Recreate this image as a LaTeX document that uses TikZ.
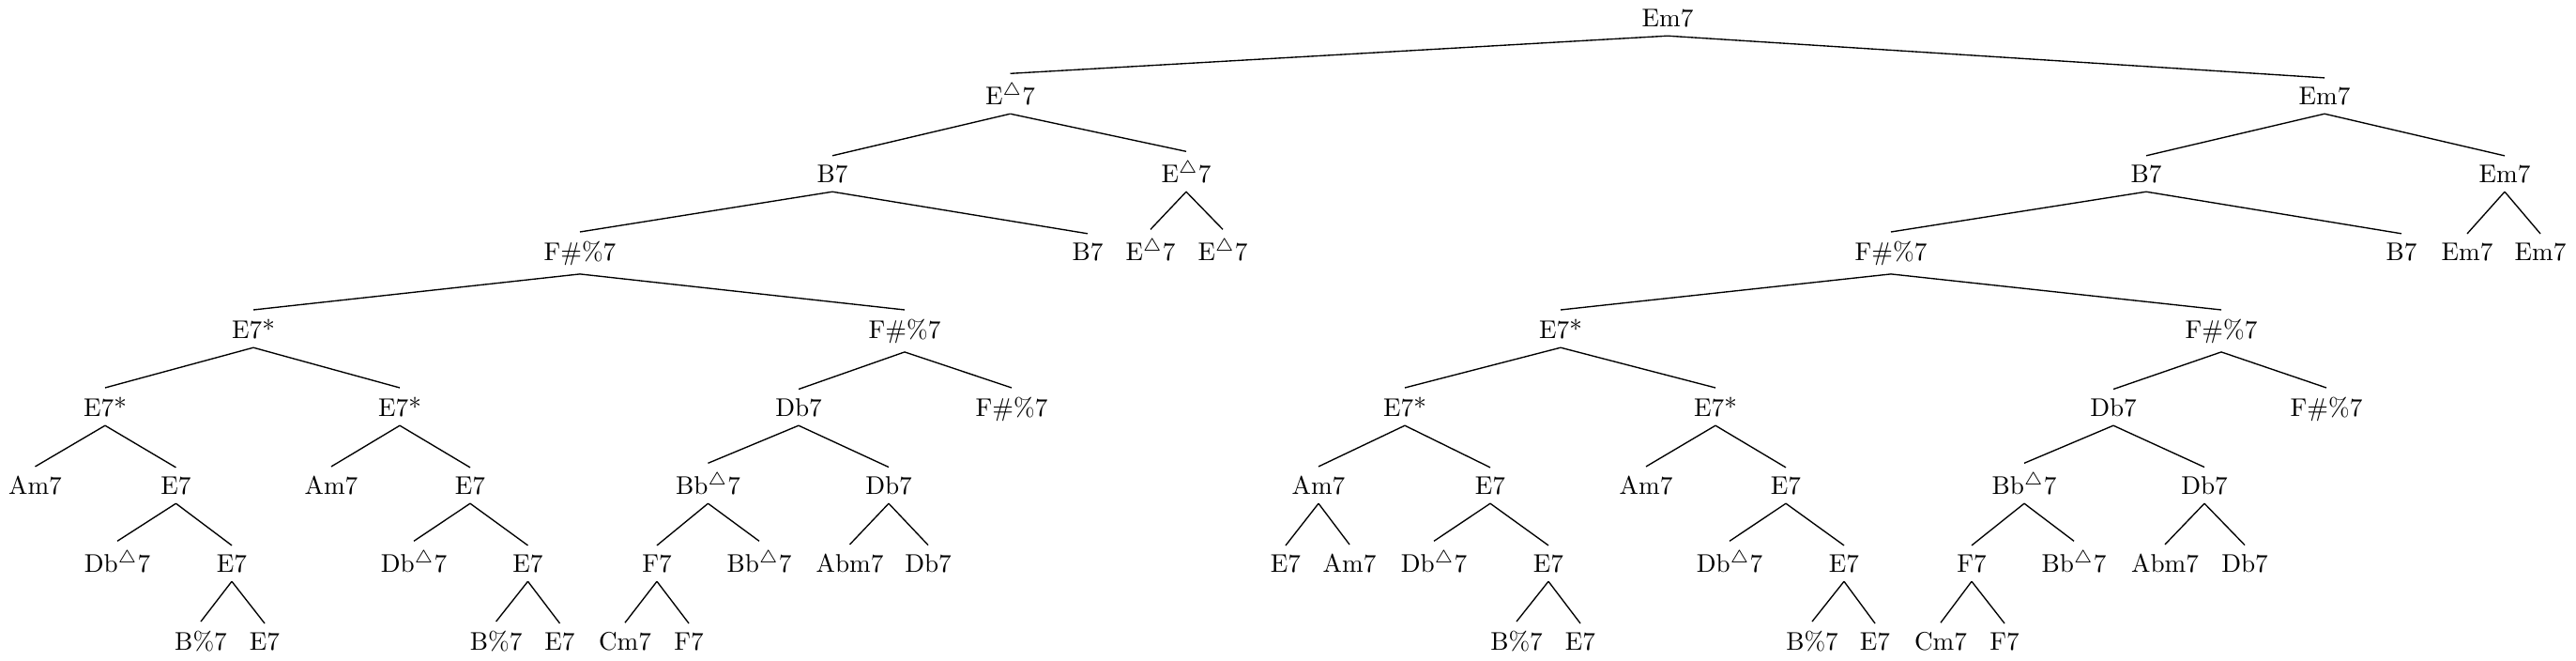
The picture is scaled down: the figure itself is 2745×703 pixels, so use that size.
\documentclass[tikz,border=0pt]{standalone}
\begin{document}
\begin{tikzpicture}[x=0.3676pt,y=-0.3676pt,
  ch/.style={anchor=base,inner sep=3.33pt,font=\normalsize},
  br/.style={line width=0.5pt}]
\useasboundingbox (0,0) rectangle (2745,703);
% level baselines: 28 + 83k
% ---- level 0
\node[ch] (r) at (1777,28) {Em7};
% ---- level 1
\node[ch] (a) at (1076.5,111) {E$^{\triangle}$7};
\node[ch] (b) at (2477,111) {Em7};
% ---- level 2
\node[ch] (aa) at (887,194) {B7};
\node[ch] (ab) at (1264,194) {E$^{\triangle}$7};
\node[ch] (ba) at (2287,194) {B7};
\node[ch] (bb) at (2669,194) {Em7};
% ---- level 3
\node[ch] (aaa) at (618,277) {F\#\%7};
\node[ch] (aab) at (1159,277) {B7};
\node[ch] (aba) at (1226,277) {E$^{\triangle}$7};
\node[ch] (abb) at (1303,277) {E$^{\triangle}$7};
\node[ch] (baa) at (2015,277) {F\#\%7};
\node[ch] (bab) at (2559,277) {B7};
\node[ch] (bba) at (2629,277) {Em7};
\node[ch] (bbb) at (2707,277) {Em7};
% ---- level 4
\node[ch] (aaaa) at (270,360) {E7*};
\node[ch] (aaab) at (964,360) {F\#\%7};
\node[ch] (baaa) at (1663,360) {E7*};
\node[ch] (baab) at (2367,360) {F\#\%7};
% ---- level 5
\node[ch] (aaaaa) at (112,443) {E7*};
\node[ch] (aaaab) at (426,443) {E7*};
\node[ch] (aaaba) at (851,443) {Db7};
\node[ch] (aaabb) at (1078,443) {F\#\%7};
\node[ch] (baaaa) at (1497,443) {E7*};
\node[ch] (baaab) at (1828,443) {E7*};
\node[ch] (baaba) at (2252,443) {Db7};
\node[ch] (baabb) at (2479,443) {F\#\%7};
% ---- level 6
\node[ch] (l6a) at (37.5,526) {Am7};
\node[ch] (l6b) at (187.5,526) {E7};
\node[ch] (l6c) at (353,526) {Am7};
\node[ch] (l6d) at (501,526) {E7};
\node[ch] (l6e) at (754.5,526) {Bb$^{\triangle}$7};
\node[ch] (l6f) at (947,526) {Db7};
\node[ch] (l6g) at (1405,526) {Am7};
\node[ch] (l6h) at (1588,526) {E7};
\node[ch] (l6i) at (1754,526) {Am7};
\node[ch] (l6j) at (1903,526) {E7};
\node[ch] (l6k) at (2157,526) {Bb$^{\triangle}$7};
\node[ch] (l6l) at (2349,526) {Db7};
% ---- level 7
\node[ch] (l7a) at (125,609) {Db$^{\triangle}$7};
\node[ch] (l7b) at (247,609) {E7};
\node[ch] (l7c) at (441,609) {Db$^{\triangle}$7};
\node[ch] (l7d) at (562.5,609) {E7};
\node[ch] (l7e) at (700,609) {F7};
\node[ch] (l7f) at (809,609) {Bb$^{\triangle}$7};
\node[ch] (l7g) at (905.5,609) {Abm7};
\node[ch] (l7h) at (989,609) {Db7};
\node[ch] (l7i) at (1370,609) {E7};
\node[ch] (l7j) at (1438,609) {Am7};
\node[ch] (l7k) at (1528,609) {Db$^{\triangle}$7};
\node[ch] (l7l) at (1650,609) {E7};
\node[ch] (l7m) at (1843,609) {Db$^{\triangle}$7};
\node[ch] (l7n) at (1965,609) {E7};
\node[ch] (l7o) at (2101,609) {F7};
\node[ch] (l7p) at (2210,609) {Bb$^{\triangle}$7};
\node[ch] (l7q) at (2307,609) {Abm7};
\node[ch] (l7r) at (2392,609) {Db7};
% ---- level 8
\node[ch] (l8a) at (214,692) {B\%7};
\node[ch] (l8b) at (282,692) {E7};
\node[ch] (l8c) at (528.6,692) {B\%7};
\node[ch] (l8d) at (596.5,692) {E7};
\node[ch] (l8e) at (666,692) {Cm7};
\node[ch] (l8f) at (734,692) {F7};
\node[ch] (l8g) at (1616,692) {B\%7};
\node[ch] (l8h) at (1684,692) {E7};
\node[ch] (l8i) at (1931,692) {B\%7};
\node[ch] (l8j) at (1998,692) {E7};
\node[ch] (l8k) at (2068,692) {Cm7};
\node[ch] (l8l) at (2136,692) {F7};
% ---- branches
\foreach \p/\c in {r/a, r/b,
  a/aa, a/ab, b/ba, b/bb,
  aa/aaa, aa/aab, ab/aba, ab/abb, ba/baa, ba/bab, bb/bba, bb/bbb,
  aaa/aaaa, aaa/aaab, baa/baaa, baa/baab,
  aaaa/aaaaa, aaaa/aaaab, aaab/aaaba, aaab/aaabb,
  baaa/baaaa, baaa/baaab, baab/baaba, baab/baabb,
  aaaaa/l6a, aaaaa/l6b, aaaab/l6c, aaaab/l6d, aaaba/l6e, aaaba/l6f,
  baaaa/l6g, baaaa/l6h, baaab/l6i, baaab/l6j, baaba/l6k, baaba/l6l,
  l6b/l7a, l6b/l7b, l6d/l7c, l6d/l7d, l6e/l7e, l6e/l7f, l6f/l7g, l6f/l7h,
  l6g/l7i, l6g/l7j, l6h/l7k, l6h/l7l, l6j/l7m, l6j/l7n, l6k/l7o, l6k/l7p,
  l6l/l7q, l6l/l7r,
  l7b/l8a, l7b/l8b, l7d/l8c, l7d/l8d, l7e/l8e, l7e/l8f,
  l7l/l8g, l7l/l8h, l7n/l8i, l7n/l8j, l7o/l8k, l7o/l8l}
  \draw[br] (\p.south) -- (\c.north);
\end{tikzpicture}
\end{document}
